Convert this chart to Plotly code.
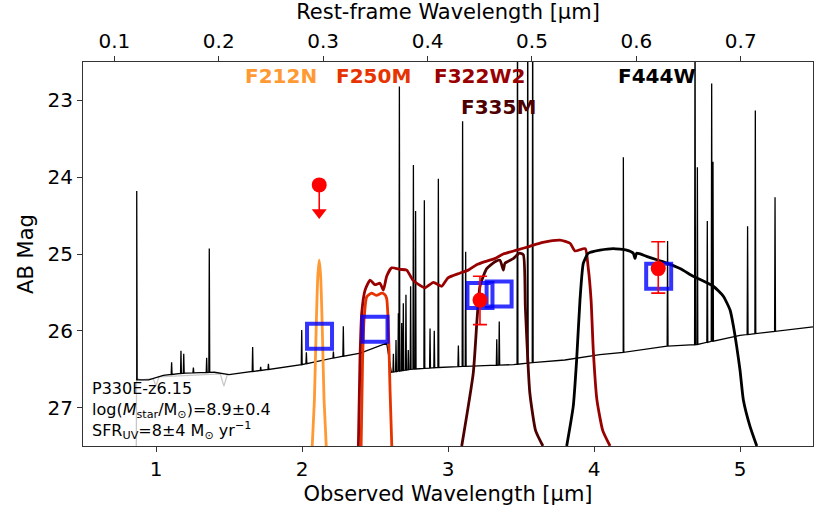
import numpy as np
import plotly.graph_objects as go

REDSHIFT = 6.15

# model continuum (observed micron, AB mag)
cont_wave = [0.868, 0.95, 1.05, 1.2, 1.4, 1.5, 1.7, 1.9, 2.0, 2.2, 2.4, 2.58, 2.612,
             2.75, 3.0, 3.45, 3.6, 3.8, 4.04, 4.2, 4.5, 4.7, 5.0, 5.5]
cont_mag = [26.64, 26.64, 26.58, 26.55, 26.54, 26.57, 26.52, 26.47, 26.44, 26.36, 26.29, 26.16, 26.54,
            26.5, 26.47, 26.44, 26.41, 26.38, 26.31, 26.28, 26.2, 26.18, 26.06, 25.95]

# emission lines (observed micron, peak AB mag)
line_wave = [0.868, 1.107, 1.171, 1.19, 1.256, 1.347, 1.365, 1.662, 1.717, 1.77,
             1.998, 2.03, 2.215, 2.283,
             2.626, 2.644, 2.66, 2.667, 2.683, 2.694, 2.712, 2.728, 2.744, 2.763, 2.778,
             2.838, 2.877, 2.906, 2.934, 3.071, 3.10, 3.121, 3.334, 3.351,
             3.476, 3.546, 3.580,
             4.201, 4.504, 4.692, 4.708, 4.776, 4.806, 4.815, 5.052, 5.105, 5.24]
line_peak = [24.18, 26.41, 26.26, 26.3, 26.48, 26.35, 24.93, 26.21, 26.47, 26.43,
             25.99, 26.28, 26.27, 25.94,
             26.3, 26.12, 25.77, 22.82, 25.9, 25.64, 25.53, 26.25, 25.42, 23.84, 24.44,
             24.30, 25.97, 26.0, 24.02, 26.19, 23.27, 24.97, 26.11, 25.88,
             21.5, 21.5, 21.5,
             23.74, 24.83, 21.5, 23.87, 24.57, 22.78, 23.8, 24.64, 23.13, 24.26]

# grey spectrum visible only around the Lyman break and absorption dips
grey_wave = [0.864, 0.867, 0.9, 0.98, 1.0, 1.02, 1.44, 1.465, 1.49]
grey_mag = [28.0, 26.62, 26.64, 26.62, 26.72, 26.6, 26.56, 26.72, 26.56]

# filter transmission curves, scaled into magnitude space
filters = ["F212N", "F250M", "F322W2", "F335M", "F444W"]
filter_colors = ["#ff9933", "#e63300", "#990000", "#4d0000", "#000000"]
f212n_wave = [2.07, 2.085, 2.098, 2.108, 2.118, 2.128, 2.138, 2.151, 2.166]
f212n_mag = [27.5, 26.9, 25.9, 25.3, 25.08, 25.3, 25.9, 26.9, 27.5]
f250m_wave = [2.405, 2.415, 2.425, 2.443, 2.477, 2.511, 2.546, 2.568, 2.58, 2.59, 2.598, 2.603, 2.615]
f250m_mag = [27.5, 26.38, 25.86, 25.56, 25.51, 25.54, 25.51, 25.53, 25.58, 25.86, 26.38, 26.77, 27.5]
f322w2_wave = [2.386, 2.397, 2.409, 2.432, 2.466, 2.5, 2.534, 2.557, 2.58, 2.614, 2.671, 2.717,
               2.76, 2.842, 2.9, 2.956, 3.0, 3.08, 3.139, 3.196, 3.253, 3.32, 3.379, 3.47,
               3.56, 3.65, 3.767, 3.836, 3.87, 3.94, 3.96, 3.98, 3.995, 4.02, 4.06, 4.11]
f322w2_mag = [27.5, 26.38, 25.77, 25.47, 25.34, 25.4, 25.38, 25.47, 25.29, 25.18, 25.2, 25.21,
              25.34, 25.44, 25.37, 25.42, 25.31, 25.25, 25.21, 25.14, 25.1, 25.06, 25.0, 24.95,
              24.9, 24.85, 24.82, 24.86, 24.96, 24.93, 25.17, 25.6, 26.25, 26.9, 27.3, 27.5]
f335m_wave = [3.094, 3.173, 3.219, 3.265, 3.322, 3.356, 3.379, 3.39, 3.447, 3.49, 3.516,
              3.53, 3.56, 3.6, 3.65]
f335m_mag = [27.5, 26.55, 25.42, 25.19, 25.1, 25.08, 25.21, 25.12, 25.06, 24.99, 25.01,
             25.7, 26.8, 27.3, 27.5]
f444w_wave = [3.813, 3.858, 3.881, 3.904, 3.927, 3.961, 4.041, 4.132, 4.223, 4.269, 4.281, 4.292,
              4.36, 4.47, 4.589, 4.68, 4.817, 4.886, 4.932, 4.955, 4.977, 5.0, 5.023, 5.068, 5.115]
f444w_mag = [27.5, 26.98, 26.38, 25.6, 25.12, 24.99, 24.95, 24.93, 24.95, 24.99, 25.06, 24.99,
             25.03, 25.1, 25.19, 25.29, 25.42, 25.55, 25.73, 25.94, 26.2, 26.51, 26.9, 27.24, 27.5]
filter_waves = [f212n_wave, f250m_wave, f322w2_wave, f335m_wave, f444w_wave]
filter_mags = [f212n_mag, f250m_mag, f322w2_mag, f335m_mag, f444w_mag]

# label positions (observed micron, mag)
label_x = [1.855, 2.493, 3.219, 3.349, 4.43]
label_y = [22.68, 22.68, 22.68, 23.08, 22.68]

# model photometry (blue squares)
model_wave = [2.12, 2.5, 3.219, 3.35, 4.443]
model_mag = [26.07, 25.98, 25.54, 25.52, 25.29]

# observed photometry
obs_wave = [3.219, 4.44]
obs_mag = [25.6, 25.19]
obs_err_hi = [0.32, 0.32]
obs_err_lo = [0.31, 0.35]
uplim_wave = [2.118]
uplim_mag = [24.1]
uplim_arrow = 0.44

rest_ticks = [0.1, 0.2, 0.3, 0.4, 0.5, 0.6, 0.7]


def build_spectrum(cw, cm, lw, lp, half=0.003):
    pts = list(zip(cw, cm))
    for w, p in zip(lw, lp):
        base = float(np.interp(w, cw, cm))
        pts += [(w - half, base), (w, p), (w + half, base)]
    pts.sort(key=lambda q: q[0])
    return [q[0] for q in pts], [q[1] for q in pts]


FONT = "DejaVu Sans"
spec_x, spec_y = build_spectrum(cont_wave, cont_mag, line_wave, line_peak)

fig = go.Figure()
fig.add_trace(go.Scatter(x=grey_wave, y=grey_mag, mode="lines",
                         line=dict(color="#c8c8c8", width=1.3), showlegend=False, hoverinfo="skip"))
fig.add_trace(go.Scatter(x=spec_x, y=spec_y, mode="lines",
                         line=dict(color="black", width=1.3), showlegend=False))
# same spectrum on the rest-frame axis (invisible) so the top axis is drawn
fig.add_trace(go.Scatter(x=[w / (1 + REDSHIFT) for w in cont_wave], y=cont_mag, mode="lines",
                         xaxis="x2", line=dict(color="rgba(0,0,0,0)", width=0),
                         showlegend=False, hoverinfo="skip"))

for name, col, fw, fm in zip(filters, filter_colors, filter_waves, filter_mags):
    fig.add_trace(go.Scatter(x=fw, y=fm, mode="lines", name=name,
                             line=dict(color=col, width=2.8, shape="spline", smoothing=0.5),
                             showlegend=False))

fig.add_trace(go.Scatter(x=model_wave, y=model_mag, mode="markers",
                         marker=dict(symbol="square-open", size=25, color="rgba(0,0,255,0.8)",
                                     line=dict(width=4, color="rgba(0,0,255,0.8)")),
                         showlegend=False))

fig.add_trace(go.Scatter(x=obs_wave, y=obs_mag, mode="markers",
                         marker=dict(symbol="circle", size=15, color="red"),
                         error_y=dict(type="data", array=obs_err_hi, arrayminus=obs_err_lo,
                                      color="red", thickness=1.6, width=7),
                         showlegend=False))

# upper limit: circle with a downward arrow
for w, m in zip(uplim_wave, uplim_mag):
    fig.add_trace(go.Scatter(x=[w, w], y=[m, m + uplim_arrow - 0.08], mode="lines",
                             line=dict(color="red", width=1.6), showlegend=False))
    fig.add_trace(go.Scatter(x=[w], y=[m + uplim_arrow - 0.08], mode="markers",
                             marker=dict(symbol="triangle-down", size=13, color="red"),
                             showlegend=False))
fig.add_trace(go.Scatter(x=uplim_wave, y=uplim_mag, mode="markers",
                         marker=dict(symbol="circle", size=15, color="red"), showlegend=False))

for name, col, lx, ly in zip(filters, filter_colors, label_x, label_y):
    fig.add_annotation(x=lx, y=ly, xref="x", yref="y", text=f"<b>{name}</b>", showarrow=False,
                       font=dict(family=FONT, size=20, color=col), xanchor="center", yanchor="middle")

info_lines = ["P330E-z6.15",
              "log(<i>M</i><sub>star</sub>/M<sub>⊙</sub>)=8.9±0.4",
              "SFR<sub>UV</sub>=8±4 M<sub>⊙</sub> yr<sup>−1</sup>"]
fig.add_annotation(x=0.55, y=27.04, xref="x", yref="y", text="<br>".join(info_lines), showarrow=False,
                   align="left", font=dict(family=FONT, size=16, color="black"),
                   xanchor="left", yanchor="middle")

axis_common = dict(showline=True, linecolor="#333", linewidth=1.2, ticks="outside", ticklen=5,
                   tickwidth=1.2, tickcolor="#333", showgrid=False, zeroline=False, automargin=False,
                   tickfont=dict(family=FONT, size=20, color="black"))

fig.update_layout(
    width=830, height=519,
    margin=dict(l=83, r=17, t=62, b=73),
    plot_bgcolor="white", paper_bgcolor="white",
    font=dict(family=FONT, color="black"),
    xaxis=dict(range=[0.5, 5.5], tickvals=[1, 2, 3, 4, 5],
               title=dict(text="Observed Wavelength [µm]", font=dict(family=FONT, size=21), standoff=6),
               **axis_common),
    xaxis2=dict(range=[0.5 / (1 + REDSHIFT), 5.5 / (1 + REDSHIFT)], overlaying="x", side="top",
                tickvals=rest_ticks, ticktext=[f"{v:.1f}" for v in rest_ticks],
                title=dict(text="Rest-frame Wavelength [µm]", font=dict(family=FONT, size=21), standoff=6),
                **axis_common),
    yaxis=dict(range=[27.5, 22.5], tickvals=[23, 24, 25, 26, 27], mirror=True,
               title=dict(text="AB Mag", font=dict(family=FONT, size=21), standoff=8),
               **axis_common),
    showlegend=False,
)

fig.write_html("out.html", config={"displayModeBar": False},
               post_script="document.body.style.margin='0px';")
